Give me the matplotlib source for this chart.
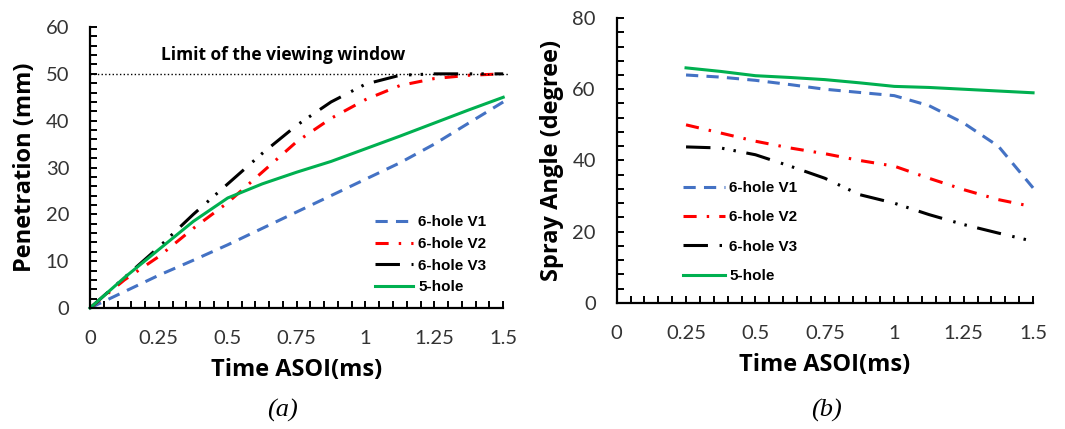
import numpy as np
import matplotlib.pyplot as plt
from matplotlib.ticker import MultipleLocator

# (a) penetration vs time
t_a = [0, 0.125, 0.25, 0.375, 0.5, 0.625, 0.75, 0.875, 1.0, 1.125, 1.25, 1.375, 1.5]
pen_v1 = [0, 3.5, 7, 10.2, 13.5, 17, 20.5, 24, 27.5, 31, 35, 39.5, 44]
pen_v2 = [0, 6, 11, 17, 22.5, 29, 35.5, 40.5, 44.5, 47.5, 49, 49.7, 50]
pen_v3 = [0, 6.5, 13, 20, 26.5, 33, 39, 44, 47.8, 49.7, 50, 50, 50]
pen_5h = [0, 6.5, 12.5, 18.5, 23.5, 26.5, 29, 31.3, 34, 36.7, 39.5, 42.3, 45]

# (b) spray angle vs time
t_b = [0.25, 0.375, 0.5, 0.625, 0.75, 0.875, 1.0, 1.125, 1.25, 1.375, 1.5]
ang_v1 = [64, 63.4, 62.5, 61.3, 60, 59.1, 58.2, 55.4, 50.5, 44, 32.3]
ang_v2 = [50, 47.7, 45.4, 43.5, 41.9, 40, 38.4, 35, 31.8, 29, 27]
ang_v3 = [43.8, 43.5, 41.6, 38.4, 35, 30.4, 28, 24.8, 22, 19.6, 17.3]
ang_5h = [66, 65, 63.8, 63.3, 62.7, 61.8, 60.8, 60.5, 60, 59.5, 59]

labels = ['6-hole V1', '6-hole V2', '6-hole V3', '5-hole']
colors = ['#4472C4', '#FF0000', '#000000', '#00B050']
dashes = [(4, 2.7), (4.3, 3.3, 0.8, 3.3), (8, 3.8, 0.8, 3, 0.8, 3.5), None]

tickfont = 'Lato'
labfont = 'Open Sans'
legprop = {'family': 'Liberation Sans', 'weight': 'bold', 'size': 11}

fig = plt.figure(figsize=(10.65, 4.29), dpi=100)
ax1 = fig.add_axes([0.0845, 0.282, 0.388, 0.655])
ax2 = fig.add_axes([0.579, 0.294, 0.391, 0.664])


def style(ax, ymax, ymaj, ymin):
    for s in ['top', 'right']:
        ax.spines[s].set_visible(False)
    for s in ['left', 'bottom']:
        ax.spines[s].set_linewidth(1.6)
    ax.set_xlim(0, 1.5)
    ax.set_ylim(0, ymax)
    ax.xaxis.set_major_locator(MultipleLocator(0.25))
    ax.xaxis.set_minor_locator(MultipleLocator(0.05))
    ax.yaxis.set_major_locator(MultipleLocator(ymaj))
    ax.yaxis.set_minor_locator(MultipleLocator(ymin))
    ax.tick_params(which='both', direction='in', length=5, width=1.4,
                   labelsize=14.5, labelcolor='#333333')
    ax.tick_params(axis='x', pad=16)
    ax.tick_params(axis='y', pad=15)
    ax.set_xticks([0, 0.25, 0.5, 0.75, 1, 1.25, 1.5])
    ax.set_xticklabels(['0', '0.25', '0.5', '0.75', '1', '1.25', '1.5'])
    for lab in ax.get_xticklabels() + ax.get_yticklabels():
        lab.set_fontfamily(tickfont)
    ax.set_xlabel('Time ASOI(ms)', fontsize=17, fontweight='bold',
                  fontfamily=labfont, labelpad=8)


def draw(ax, t, series):
    for y, lab, c, d in zip(series, labels, colors, dashes):
        ln, = ax.plot(t, y, color=c, lw=2.2, label=lab, clip_on=False)
        if d:
            ln.set_dashes(d)


draw(ax1, t_a, [pen_v1, pen_v2, pen_v3, pen_5h])
ax1.plot([0, 1.52], [50, 50], color='black', lw=1.0, ls=':', clip_on=False)
ax1.text(0.7, 54, 'Limit of the viewing window', fontsize=12.5,
         fontweight='bold', fontfamily=labfont, ha='center', va='center')
style(ax1, 60, 10, 2)
ax1.set_ylabel('Penetration (mm)', fontsize=17, fontweight='bold',
               fontfamily=labfont, labelpad=6)
ax1.legend(loc='upper left', bbox_to_anchor=(0.352, 0.498),
           bbox_transform=fig.transFigure, frameon=False, prop=legprop,
           handlelength=2.5, handletextpad=0.35, labelspacing=0.5,
           borderaxespad=0, borderpad=0)

draw(ax2, t_b, [ang_v1, ang_v2, ang_v3, ang_5h])
style(ax2, 80, 20, 4)
ax2.set_ylabel('Spray Angle (degree)', fontsize=17, fontweight='bold',
               fontfamily=labfont, labelpad=6)
ax2.legend(loc='upper left', bbox_to_anchor=(0.641, 0.578),
           bbox_transform=fig.transFigure, frameon=False, prop=legprop,
           handlelength=2.75, handletextpad=0.3, labelspacing=1.0,
           borderaxespad=0, borderpad=0)

fig.text(0.265, 0.044, '(a)', fontsize=19, style='italic',
         fontfamily='Liberation Serif', ha='center', va='center')
fig.text(0.776, 0.044, '(b)', fontsize=19, style='italic',
         fontfamily='Liberation Serif', ha='center', va='center')

fig.savefig('out.png', dpi=100)
